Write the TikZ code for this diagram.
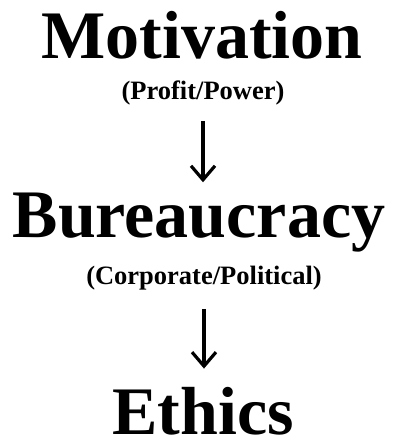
\documentclass[tikz,border=0pt]{standalone}
\usepackage{fontspec}
\setmainfont{Liberation Serif}
\usetikzlibrary{arrows.meta}
\tikzset{
  big/.style={inner sep=0pt, anchor=base, font=\bfseries\fontsize{68}{80}\selectfont},
  small/.style={inner sep=0pt, anchor=base, font=\bfseries\fontsize{26.5}{30}\selectfont},
  arr/.style={line width=3.2pt, -{Straight Barb[length=14pt,width=24pt,line width=3.2pt]}}
}
\begin{document}
\begin{tikzpicture}[x=1pt,y=1pt]
\useasboundingbox (0,0) rectangle (396,-440);
\node[big] (m) at (202,-58) {Motivation};
\node[small] (mp) at (203,-99) {(Profit/Power)};
\node[big] (b) at (199,-237) {Bureaucracy};
\node[small] (bp) at (204,-284) {(Corporate/Political)};
\node[big] (e) at (203,-434) {Ethics};
\coordinate (a1s) at ([yshift=-16pt]mp.south);
\coordinate (b1) at ([yshift=10pt]b.north);
\coordinate (a2s) at ([yshift=-19pt]bp.south);
\coordinate (e1) at ([yshift=18pt]e.north);
\draw[arr] (a1s) -- (a1s |- b1);
\draw[arr] (a2s) -- (a2s |- e1);
\end{tikzpicture}
\end{document}
